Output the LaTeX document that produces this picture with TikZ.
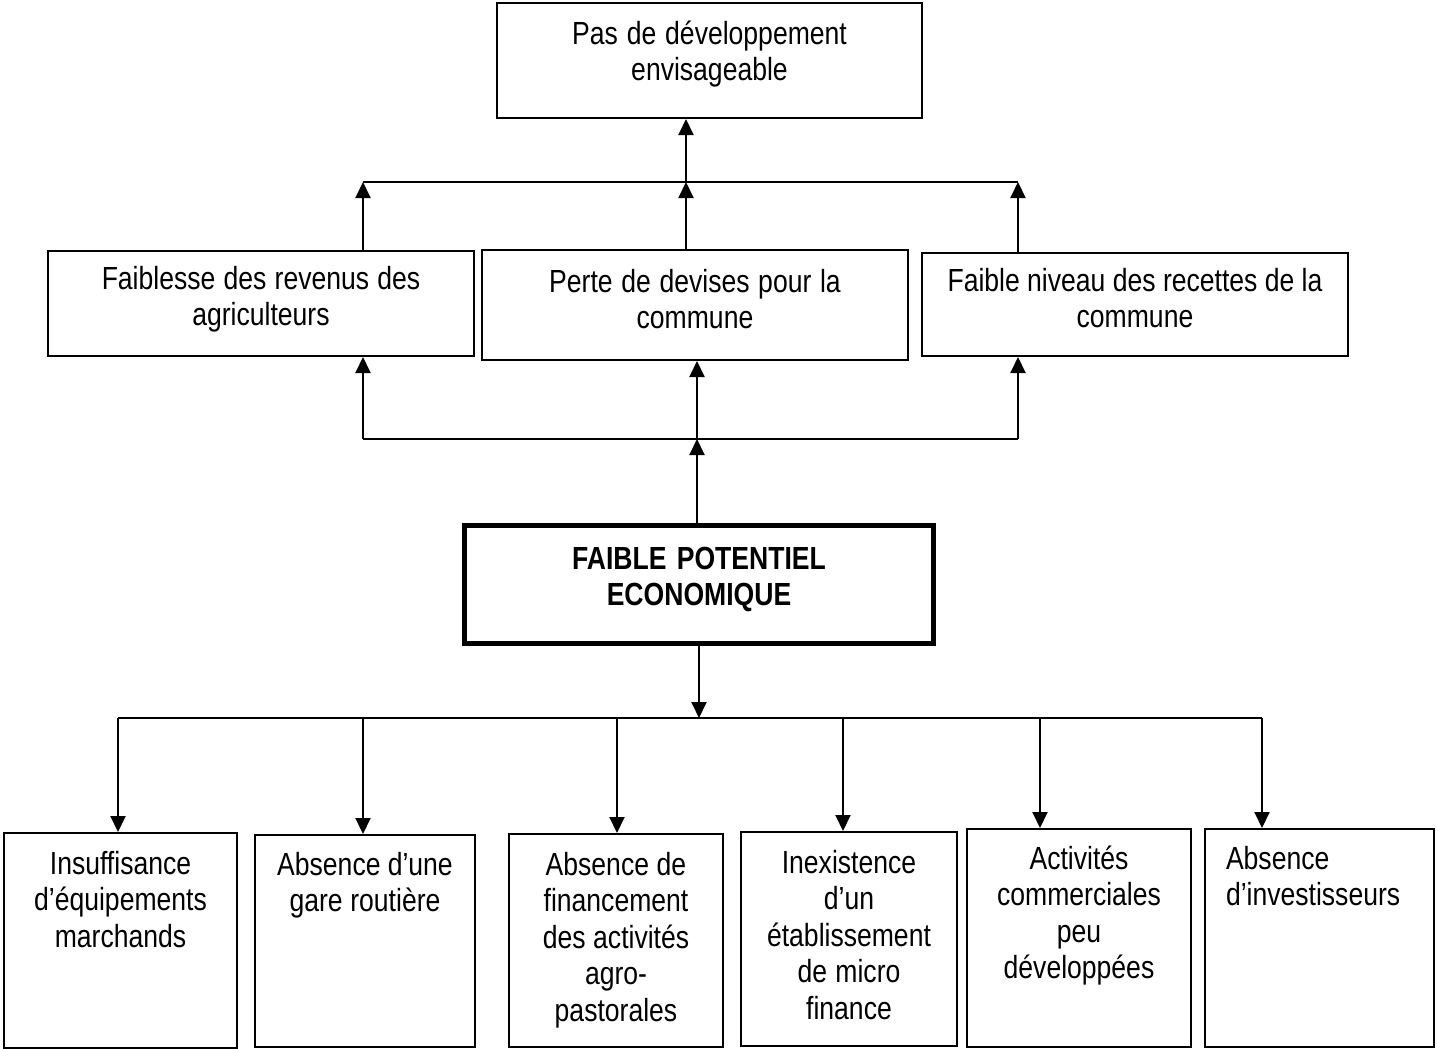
\documentclass[tikz,border=0pt]{standalone}
\usepackage{fontspec}
\setmainfont{Liberation Sans}[FakeStretch=0.83]
\usetikzlibrary{arrows.meta,positioning}
\newcommand{\tightspace}[1]{\spaceskip=#1 plus 1pt minus 0.5pt\relax}
\tikzset{
  box/.style args={#1,#2,#3}{
    draw, line width=1pt, anchor=north, align=center,
    inner xsep=4pt, inner ysep=0pt,
    text width=#1pt, text height=#2pt, text depth=#3pt,
    font=\fontsize{16pt}{18.3pt}\selectfont,
    execute at begin node={\tightspace{3.4pt}}
  },
  corebox/.style args={#1,#2,#3}{
    box={#1,#2,#3}, line width=2.5pt,
    font=\fontsize{16pt}{18pt}\selectfont\bfseries,
    execute at begin node={\tightspace{3.6pt}}
  },
  wire/.style={line width=1pt},
  arr/.style={wire,-{Triangle[width=7.5pt,length=8pt]}}
}

\begin{document}
\begin{tikzpicture}[x=0.5pt,y=-0.5pt]
  \useasboundingbox (0,0) rectangle (1437,1049);

  % effets
  \node[box={204.5,20.5,37}] (dev) at (709.5,2) {Pas de développement\\envisageable};
  \node[box={205,19,33.5}] (rev) at (261,250) {Faiblesse des revenus des\\agriculteurs};
  \node[box={205,21,34}] (devis) at (695,249) {Perte de devises pour la\\commune};
  \node[box={205,19,32.5}] (rec) at (1135,252) {Faible niveau des recettes de la\\commune};

  % probleme central
  \node[corebox={226.5,21.75,37.25}] (core) at (699,523) {FAIBLE POTENTIEL\\ECONOMIQUE};

  % causes
  \node[box={108.5,20.5,87}] (c1) at (120.5,832) {Insuffisance\\d’équipements\\marchands};
  \node[box={102,20,86}] (c2) at (365,834) {Absence d’une\\gare routière};
  \node[box={99,20.5,86}] (c3) at (616,833) {Absence de\\financement\\des activités\\agro-\\pastorales};
  \node[box={100,20.5,86.5}] (c4) at (849,831) {Inexistence\\d’un\\établissement\\de micro\\finance};
  \node[box={104,20,89}] (c5) at (1079,828) {Activités\\commerciales\\peu\\développées};
  \node[box={93.5,20,89},align=left,inner xsep=10.5pt] (c6) at (1319.5,828) {Absence\\d’investisseurs};

  % effets -> developpement
  \coordinate (tbL) at (363,182);
  \coordinate (tbM) at (686,182);
  \coordinate (tbR) at (1018,182);
  \draw[wire] (tbL) -- (tbR);
  \draw[arr] (tbM) -- (dev.south -| tbM);
  \draw[arr] (rev.north -| tbL) -- (tbL);
  \draw[arr] (devis.north -| tbM) -- (tbM);
  \draw[arr] (rec.north -| tbR) -- (tbR);

  % probleme -> effets
  \coordinate (lbL) at (363,439);
  \coordinate (lbM) at (697,439);
  \coordinate (lbR) at (1018,439);
  \draw[wire] (lbL) -- (lbR);
  \draw[arr] (lbL) -- (rev.south -| lbL);
  \draw[arr] (lbM) -- (devis.south -| lbM);
  \draw[arr] (lbR) -- (rec.south -| lbR);
  \draw[arr] (core.north -| lbM) -- (lbM);

  % probleme -> causes
  \coordinate (bb) at (699,718);
  \foreach \x [count=\i] in {118,363,617,843,1040,1262}
    \coordinate (d\i) at (\x,718);
  \draw[wire] (d1) -- (d6);
  \draw[arr] (core.south -| bb) -- (bb);
  \foreach \i in {1,...,6}
    \draw[arr] (d\i) -- (c\i.north -| d\i);
\end{tikzpicture}
\end{document}
